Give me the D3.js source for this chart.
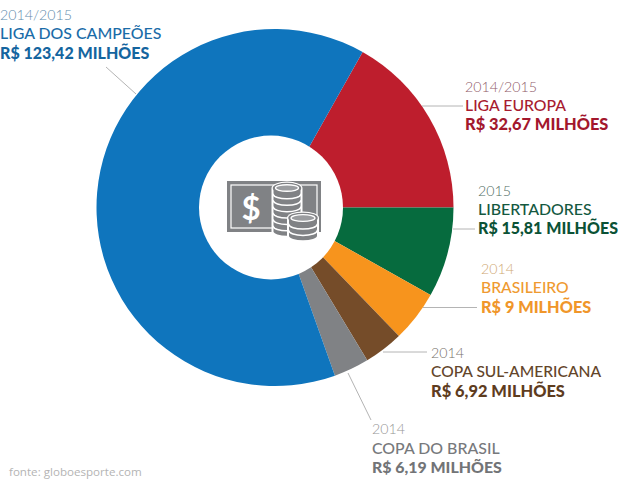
<!DOCTYPE html>
<html>
<head>
<meta charset="utf-8">
<script src="https://cdn.jsdelivr.net/npm/d3@7"></script>
<style>
  html, body { margin: 0; padding: 0; background: #fff; }
  svg { display: block; }
  text { font-family: Lato, "Open Sans", sans-serif; }
</style>
</head>
<body>
<div id="container"></div>
<script>
// data, clockwise from the top right slice
let competitions = ["LIGA EUROPA", "LIBERTADORES", "BRASILEIRO", "COPA SUL-AMERICANA", "COPA DO BRASIL", "LIGA DOS CAMPEÕES"];
let seasons = ["2014/2015", "2015", "2014", "2014", "2014", "2014/2015"];
let prizes = [32.67, 15.81, 9, 6.92, 6.19, 123.42];
let prizeLabels = ["R$ 32,67 MILHÕES", "R$ 15,81 MILHÕES", "R$ 9 MILHÕES", "R$ 6,92 MILHÕES", "R$ 6,19 MILHÕES", "R$ 123,42 MILHÕES"];

///////////////////////////

let w = 620;
let h = 488;
let cx = 275;
let cy = 207.5;
let outerR = 178.5;
let holeX = 271;
let holeR = 72;
let startDeg = 29.4;

let colors = ["#be1e2d", "#066b3e", "#f7941d", "#754c29", "#808285", "#0f75bd"];
let nameColors = ["#a81c30", "#14583f", "#ef9a30", "#63452a", "#77797c", "#1a6ca8"];
let valueColors = ["#a3172d", "#0b5236", "#f0962a", "#5e3c1e", "#727477", "#14659f"];
let yearColors = ["#8f5b68", "#4f6d62", "#cfa873", "#77716a", "#969696", "#5f8cad"];

// label anchor, year/name/value baselines and font sizes fitted to the reference widths
let labelPos = [
  { x: 465, y: [92, 111, 130], size: [14.2, 15.8, 16.4] },
  { x: 478, y: [196, 215, 234], size: [14.2, 15.9, 16] },
  { x: 481, y: [274, 293, 313], size: [14.2, 15.7, 16.3] },
  { x: 431, y: [358, 377, 397], size: [14.2, 15.6, 16.4] },
  { x: 372, y: [434, 454, 473], size: [14.2, 15.9, 15.9] },
  { x: 0, y: [20, 39, 59], size: [14.2, 15.9, 16] }
];

let leaders = [
  [[422, 106], [463, 106]],
  [[453, 229], [475, 229]],
  [[423, 307.5], [477, 307.5]],
  [[383, 352], [427, 352]],
  [[348, 373], [371, 420]],
  [[106, 67], [136, 94]]
];

///////////////////////////

let viz = d3.select("#container").append("svg")
    .attr("width", w)
    .attr("height", h)
    .style("background-color", "white")
;

let pie = d3.pie()
    .sort(null)
    .startAngle(startDeg * Math.PI / 180)
    .endAngle((startDeg + 360) * Math.PI / 180)
;

let arc = d3.arc().innerRadius(0).outerRadius(outerR);

viz.append("g")
    .attr("transform", "translate(" + cx + "," + cy + ")")
    .selectAll("path").data(pie(prizes))
    .enter()
      .append("path")
      .attr("d", arc)
      .attr("fill", function(d, i){ return colors[i]; })
;

// the hole sits a little left of the ring centre in the original
viz.append("circle")
    .attr("cx", holeX)
    .attr("cy", cy)
    .attr("r", holeR)
    .attr("fill", "white")
;

// leader lines
viz.selectAll(".leader").data(leaders)
    .enter()
      .append("path")
      .attr("class", "leader")
      .attr("d", d3.line())
      .attr("fill", "none")
      .attr("stroke", "#b4b4b4")
      .attr("stroke-width", 1)
;

// labels
let labels = viz.selectAll(".label").data(competitions)
    .enter()
      .append("g")
      .attr("class", "label")
;

labels.append("text")
    .attr("x", function(d, i){ return labelPos[i].x; })
    .attr("y", function(d, i){ return labelPos[i].y[0]; })
    .attr("font-size", function(d, i){ return labelPos[i].size[0]; })
    .attr("font-weight", 300)
    .attr("fill", function(d, i){ return yearColors[i]; })
    .text(function(d, i){ return seasons[i]; })
;

labels.append("text")
    .attr("x", function(d, i){ return labelPos[i].x; })
    .attr("y", function(d, i){ return labelPos[i].y[1]; })
    .attr("font-size", function(d, i){ return labelPos[i].size[1]; })
    .attr("font-weight", 500)
    .attr("fill", function(d, i){ return nameColors[i]; })
    .text(function(d){ return d; })
;

labels.append("text")
    .attr("x", function(d, i){ return labelPos[i].x; })
    .attr("y", function(d, i){ return labelPos[i].y[2]; })
    .attr("font-size", function(d, i){ return labelPos[i].size[2]; })
    .attr("font-weight", 900)
    .attr("fill", function(d, i){ return valueColors[i]; })
    .text(function(d, i){ return prizeLabels[i]; })
;

// source
viz.append("text")
    .attr("x", 9)
    .attr("y", 476)
    .attr("font-size", 11.6)
    .attr("fill", "#b4b4b4")
    .style("font-family", "'Open Sans'")
    .text("fonte: globoesporte.com")
;

///////////////////////////
// money icon

let grey = "#808285";
let icon = viz.append("g");

icon.append("rect").attr("x", 227).attr("y", 181).attr("width", 94).attr("height", 51).attr("fill", grey);
icon.append("rect").attr("x", 231).attr("y", 185).attr("width", 86).attr("height", 43)
    .attr("fill", "none").attr("stroke", "white").attr("stroke-width", 1.2);

icon.append("text")
    .attr("x", 251)
    .attr("y", 220)
    .attr("text-anchor", "middle")
    .attr("font-size", 33)
    .attr("font-weight", 700)
    .attr("fill", "white")
    .text("$");

function coinStack(x, top, rx, count, step) {
  let ry = rx * 0.33;
  let bottom = top + (count - 1) * step;
  // white halo so the stack cuts out of whatever is behind it
  icon.append("path")
      .attr("d", "M" + (x - rx - 2) + "," + top + " A" + (rx + 2) + "," + (ry + 2) + " 0 0 1 " + (x + rx + 2) + "," + top
        + " V" + (bottom + step) + " A" + (rx + 2) + "," + (ry + 2) + " 0 0 1 " + (x - rx - 2) + "," + (bottom + step) + " Z")
      .attr("fill", "white");
  for (let i = count - 1; i >= 0; i--) {
    let y = top + i * step;
    icon.append("path")
        .attr("d", "M" + (x - rx) + "," + y + " V" + (y + step - 1.5)
          + " A" + rx + "," + ry + " 0 0 0 " + (x + rx) + "," + (y + step - 1.5)
          + " V" + y + " Z")
        .attr("fill", grey);
    icon.append("ellipse")
        .attr("cx", x).attr("cy", y).attr("rx", rx).attr("ry", ry)
        .attr("fill", grey)
        .attr("stroke", i === 0 ? grey : "white")
        .attr("stroke-width", 1.5);
    if (i === 0) {
      icon.append("ellipse")
          .attr("cx", x).attr("cy", y).attr("rx", rx - 2).attr("ry", ry - 1.2)
          .attr("fill", "#9a9c9f")
          .attr("stroke", "white")
          .attr("stroke-width", 1.3);
    }
  }
}

coinStack(287, 188, 13.5, 7, 6.4);
coinStack(303, 218, 14, 3, 6.4);
</script>
</body>
</html>
